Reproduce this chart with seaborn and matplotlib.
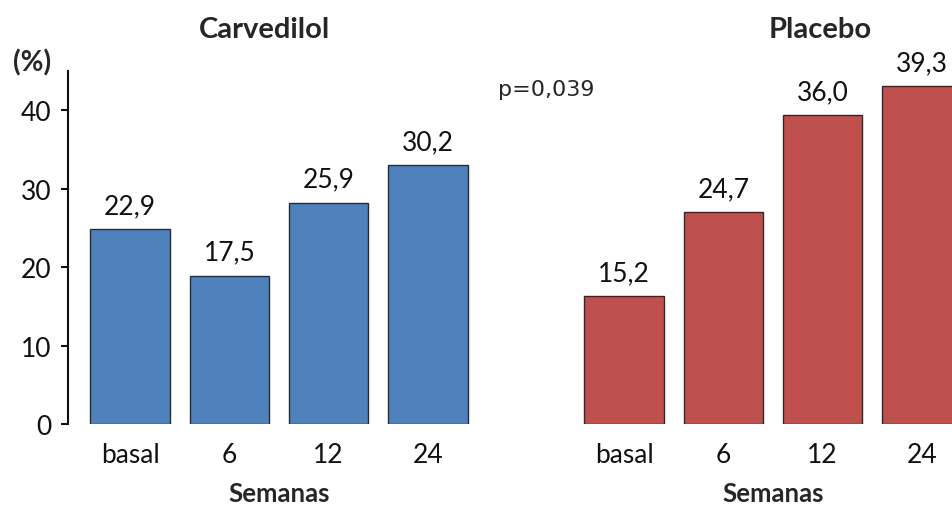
import seaborn as sns
import matplotlib
matplotlib.use("Agg")
from matplotlib import pyplot as plt

# data
semanas = ["basal", "6", "12", "24"]
carv_alturas = [24.8, 18.9, 28.2, 33.0]
carv_rotulos = ["22,9", "17,5", "25,9", "30,2"]
plac_alturas = [16.3, 27.0, 39.4, 43.1]
plac_rotulos = ["15,2", "24,7", "36,0", "39,3"]

sns.set_theme(style="white")
plt.rcParams['font.family'] = ['Lato', 'DejaVu Sans']

azul = "#4F81BD"
rojo = "#C0504D"

fig = plt.figure(figsize=(9.52, 5.06), dpi=100)
W, H = 952, 506
ax1 = fig.add_axes([68/W, 81/H, 422/W, 353/H])
ax2 = fig.add_axes([562/W, 81/H, 422/W, 353/H])

for ax, alt, rot, clr in [(ax1, carv_alturas, carv_rotulos, azul),
                          (ax2, plac_alturas, plac_rotulos, rojo)]:
    sns.barplot(x=semanas, y=alt, color=clr, saturation=1, width=0.8,
                edgecolor="#2b2b2b", linewidth=1, ax=ax)
    for i, (h, t) in enumerate(zip(alt, rot)):
        ax.text(i, h + 1.4, t, ha="center", va="bottom", fontsize=19, color="#111111")
    ax.set_xlim(-0.625, 3.625)
    ax.set_ylim(0, 45)
    ax.tick_params(axis="x", length=0, labelsize=19, pad=13, colors="#111111")
    ax.set_xlabel("Semanas", fontsize=18.5, fontweight="bold", labelpad=10)
    ax.set_ylabel("")
    for s in ["top", "right", "bottom"]:
        ax.spines[s].set_visible(False)

ax1.set_yticks([0, 10, 20, 30, 40])
ax1.tick_params(axis="y", left=True, length=5, width=1.5, labelsize=19, pad=7, colors="#111111")
ax1.spines["left"].set_color("#111111")
ax1.spines["left"].set_linewidth(1.5)

ax2.spines["left"].set_visible(False)
ax2.set_yticks([])

fig.text(265/W, 1 - 30/H, "Carvedilol", ha="center", va="center", fontsize=21, fontweight="bold")
fig.text(820/W, 1 - 30/H, "Placebo", ha="center", va="center", fontsize=21, fontweight="bold")
fig.text(32/W, 1 - 63/H, "(%)", ha="center", va="center", fontsize=20, fontweight="bold")
fig.text(498/W, 1 - 90/H, "p=0,039", ha="left", va="center", fontsize=16, family=["DejaVu Sans"])

fig.savefig("out.png", dpi=100)
